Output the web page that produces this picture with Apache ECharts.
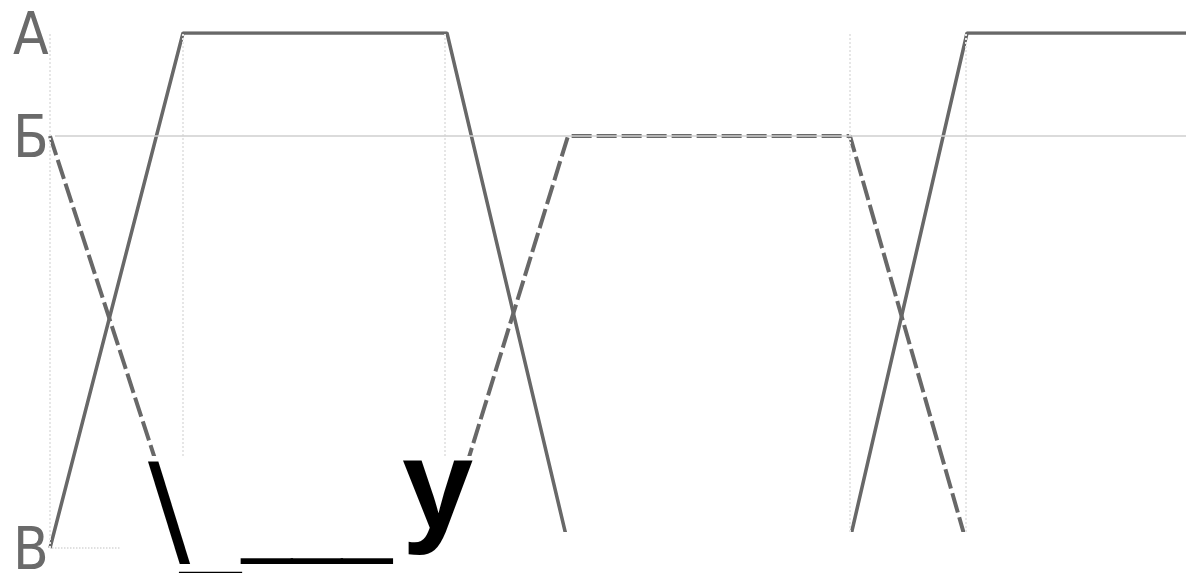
<!DOCTYPE html>
<html>
<head>
<meta charset="utf-8">
<script src="https://cdn.jsdelivr.net/npm/echarts@6/dist/echarts.min.js"></script>
<style>
  html, body { margin: 0; padding: 0; background: #fff; }
  #chart { width: 1186px; height: 573px; }
</style>
</head>
<body>
<div id="chart"></div>
<script>
// levels: В (low), Б (middle), А (high)
const levelValues = [0, 80, 100];
const levelNames = ["В", "Б", "А"];

// time points (px from the left axis)
const solidX = [0, 133, 397, 519, 798, 917, 1136];
const solidY = [0, 100, 100, 0, 0, 100, 100];
const dashedX = [0, 134, 391, 518, 800, 918];
const dashedY = [80, 0, 0, 80, 80, 0];

// faint vertical guides at the switching moments
const guideX = [0, 133, 395, 800, 916];

const lineColor = "#686868";

const chart = echarts.init(document.getElementById("chart"));

const zip = (xs, ys) => xs.map((x, i) => [x, ys[i]]);

const guideLines = guideX.map((x) => [
  { coord: [x, 0], lineStyle: { color: "#e6e6e6", width: 2, type: "dotted" } },
  { coord: [x, 100] },
]);

const option = {
  animation: false,
  backgroundColor: "#fff",
  grid: { left: 50, right: 0, top: 33, bottom: 25, outerBoundsMode: "none" },
  xAxis: {
    type: "value",
    min: 0,
    max: 1136,
    show: false,
  },
  yAxis: {
    type: "value",
    min: 0,
    max: 100,
    interval: 20,
    axisLine: { show: false },
    axisTick: { show: false },
    splitLine: { show: false },
    axisLabel: {
      align: "left",
      margin: 37,
      lineHeight: 12,
      fontFamily: "'DejaVu Sans Condensed', 'Liberation Sans Narrow', 'DejaVu Sans', sans-serif",
      fontSize: 58,
      color: "#6a6a6a",
      // empty first line pushes the letter a little below the level
      formatter: (v) => {
        const i = levelValues.indexOf(v);
        return i >= 0 ? "\n" + levelNames[i] : "";
      },
    },
  },
  series: [
    {
      name: "guides",
      type: "line",
      data: [],
      silent: true,
      markLine: {
        silent: true,
        symbol: "none",
        label: { show: false },
        data: [
          ...guideLines,
          [
            { coord: [5, 80], lineStyle: { color: "#cfcfcf", width: 1.5, type: "solid" } },
            { coord: [1136, 80] },
          ],
          [
            { coord: [2, 0], lineStyle: { color: "#d6d6d6", width: 1.5, type: "dotted" } },
            { coord: [70, 0] },
          ],
        ],
      },
    },
    {
      name: "solid",
      type: "line",
      data: zip(solidX, solidY),
      showSymbol: false,
      z: 3,
      lineStyle: { color: lineColor, width: 3.5, type: "solid" },
    },
    {
      name: "dashed",
      type: "line",
      data: zip(dashedX, dashedY),
      showSymbol: false,
      z: 3,
      lineStyle: { color: lineColor, width: 4, type: [20, 5] },
    },
  ],
  graphic: [
    // the pasted blank covers the lower part of the picture
    { type: "rect", z: 100, shape: { x: 122, y: 456, width: 363, height: 117 }, style: { fill: "#fff" } },
    { type: "rect", z: 100, shape: { x: 485, y: 532, width: 701, height: 41 }, style: { fill: "#fff" } },
    {
      type: "text", z: 101, left: 148, top: 457,
      style: { text: "\\", fill: "#000", font: "125px 'DejaVu Sans', sans-serif" },
    },
    {
      type: "text", z: 101, left: 180, top: 478,
      style: { text: "_", fill: "#000", font: "bold 110px 'Liberation Sans', Arial, sans-serif" },
    },
    {
      type: "text", z: 101, left: 242, top: 476,
      style: { text: "___", fill: "#000", font: "90px 'Liberation Sans', Arial, sans-serif" },
    },
    {
      type: "text", z: 101, left: 402, top: 429,
      style: { text: "у", fill: "#000", font: "bold 128px 'Liberation Sans', Arial, sans-serif" },
    },
  ],
};

chart.setOption(option);
</script>
</body>
</html>
